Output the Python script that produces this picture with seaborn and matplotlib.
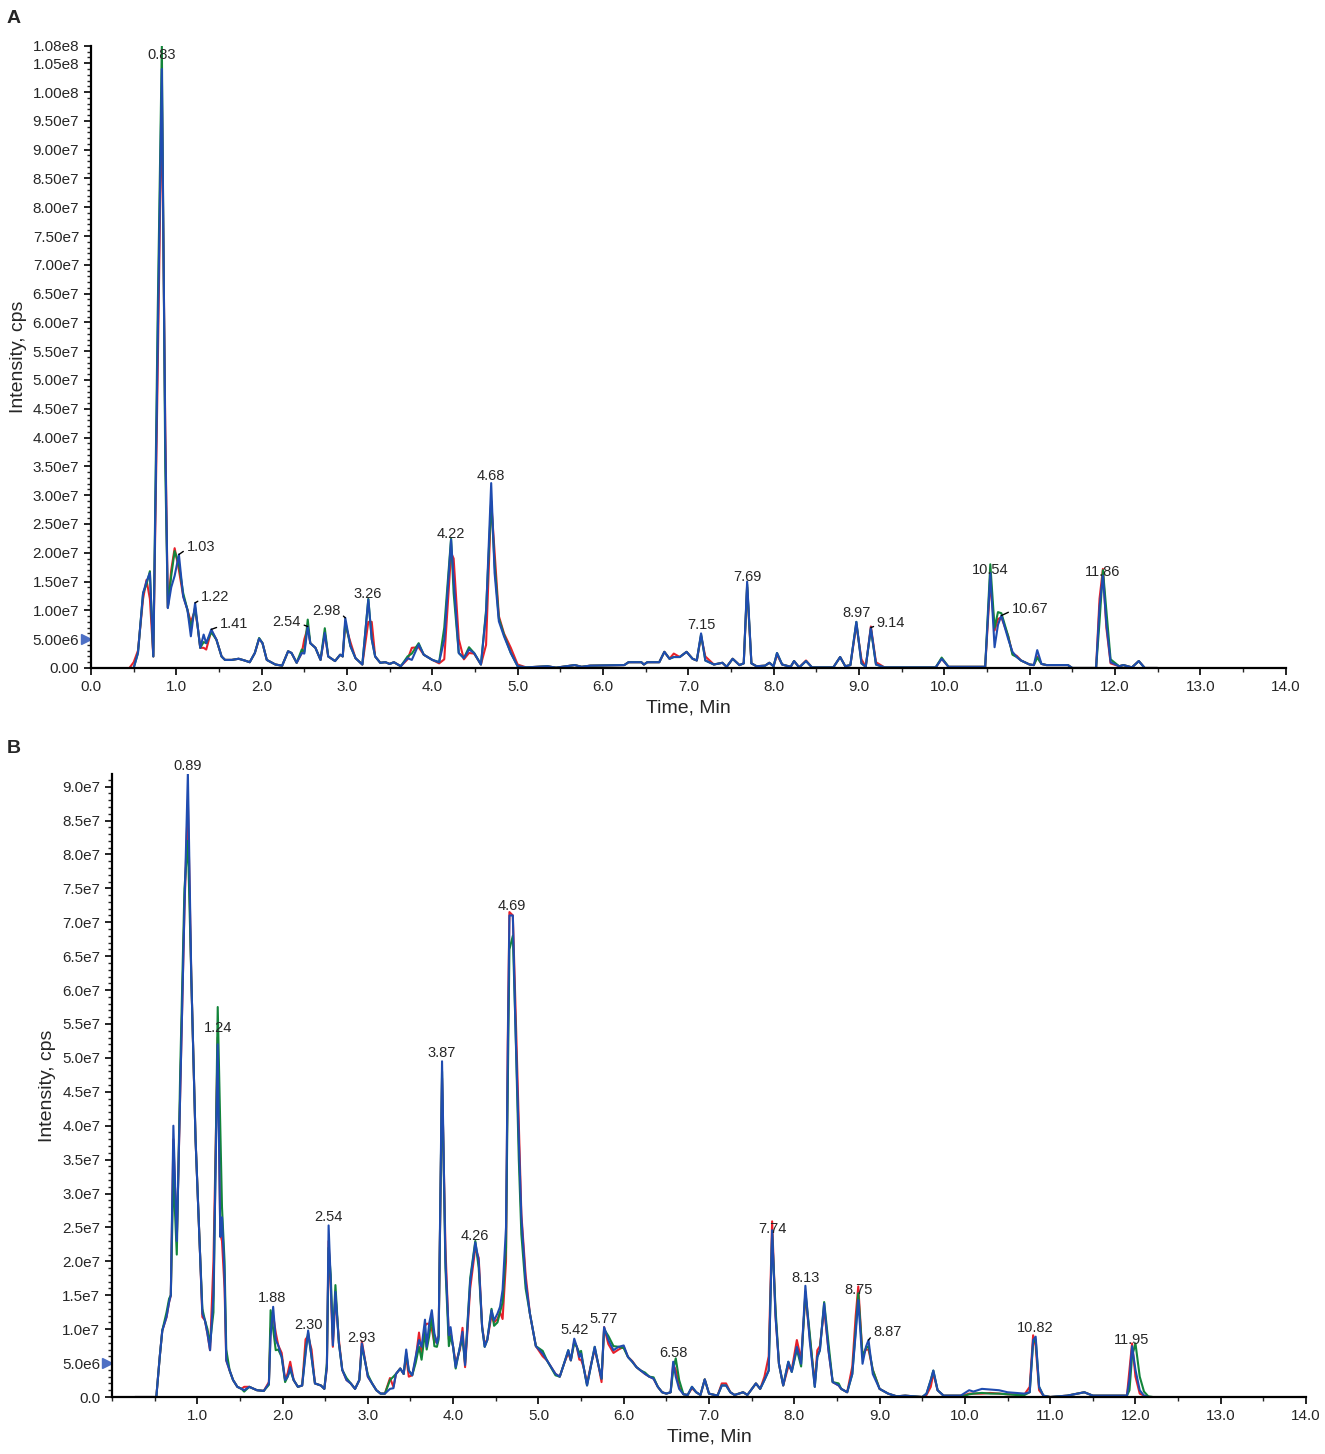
import matplotlib
matplotlib.use("Agg")
import matplotlib.pyplot as plt
from matplotlib.ticker import MultipleLocator, FuncFormatter
import seaborn as sns
import pandas as pd

tA = [0.45, 0.50, 0.55, 0.61, 0.65, 0.69, 0.73, 0.78, 0.83, 0.87, 0.90, 0.94, 0.98, 1.03, 1.08,
      1.13, 1.17, 1.22, 1.25, 1.28, 1.32, 1.35, 1.41, 1.47, 1.53, 1.57, 1.65, 1.73, 1.80, 1.86,
      1.92, 1.97, 2.01, 2.06, 2.16, 2.24, 2.31, 2.35, 2.41, 2.47, 2.50, 2.54, 2.57, 2.63, 2.69,
      2.74, 2.78, 2.86, 2.92, 2.95, 2.98, 3.04, 3.10, 3.18, 3.25, 3.29, 3.33, 3.39, 3.45, 3.50,
      3.55, 3.63, 3.71, 3.76, 3.84, 3.90, 4.00, 4.08, 4.14, 4.22, 4.25, 4.31, 4.37, 4.43, 4.49,
      4.57, 4.63, 4.69, 4.73, 4.78, 4.84, 4.92, 5.00, 5.10, 5.35, 5.45, 5.67, 5.75, 5.85, 6.25,
      6.30, 6.45, 6.48, 6.52, 6.66, 6.72, 6.78, 6.83, 6.90, 6.98, 7.05, 7.10, 7.15, 7.20, 7.30,
      7.40, 7.45, 7.52, 7.60, 7.65, 7.69, 7.74, 7.80, 7.90, 7.95, 8.00, 8.04, 8.10, 8.20, 8.24,
      8.30, 8.38, 8.45, 8.70, 8.78, 8.84, 8.90, 8.97, 9.03, 9.08, 9.14, 9.20, 9.30, 9.90, 9.97,
      10.05, 10.48, 10.54, 10.59, 10.63, 10.67, 10.75, 10.80, 10.85, 10.90, 11.00, 11.05, 11.09, 11.14, 11.20,
      11.45, 11.50, 11.78, 11.82, 11.86, 11.90, 11.95, 12.05, 12.10, 12.20, 12.28, 12.35, 12.50]
blueA = [0, 0, 2.6, 13, 15, 16.5, 2, 55, 104, 40, 10.4, 14, 16, 19.7, 12.4,
         10.1, 5.5, 11.3, 7.2, 3.5, 5.8, 4.3, 6.7, 4.9, 2, 1.4, 1.4, 1.6, 1.3, 1.0,
         2.6, 5.1, 4.3, 1.4, 0.6, 0.4, 2.9, 2.6, 0.9, 2.6, 2.5, 7.2, 4.3, 3.5, 1.4,
         6.1, 2, 1.2, 2.3, 2.0, 8.7, 3.8, 1.7, 0.6, 11.9, 5, 2, 0.9, 1.0, 0.7,
         1.0, 0.3, 1.7, 1.4, 4.1, 2.3, 1.4, 1.0, 4.9, 22.3, 15.3, 2.6, 1.7, 3.2, 2.6,
         0.6, 9.5, 32.1, 16.5, 8.1, 5.5, 2.6, 0.3, 0.1, 0.3, 0.05, 0.5, 0.2, 0.4, 0.5,
         1.0, 1.0, 0.6, 1.0, 1.0, 2.8, 1.6, 1.9, 1.9, 2.8, 1.6, 1.3, 6.0, 1.3, 0.6,
         0.9, 0.2, 1.6, 0.5, 0.8, 15.0, 0.8, 0.3, 0.4, 0.9, 0.3, 2.6, 0.6, 0.2, 1.2,
         0.1, 1.2, 0.1, 0.1, 1.9, 0.3, 0.5, 8.0, 0.8, 0.2, 7.0, 0.6, 0.1, 0.1, 1.6,
         0.2, 0.2, 16.5, 3.6, 7.5, 9.1, 5, 2.8, 1.9, 1.3, 0.6, 0.5, 3.1, 0.7, 0.5,
         0.5, 0.0, 0.0, 10.6, 16.0, 7.7, 1.0, 0.3, 0.5, 0.1, 1.2, 0.0, 0.0]
redA = [0, 1, 3, 12, 15.3, 12, 2, 50, 100, 42, 10.5, 17, 20.8, 17, 12.5,
        10.1, 8, 10, 7.2, 3.5, 3.5, 3.2, 6.5, 4.9, 2, 1.4, 1.4, 1.6, 1.3, 1.0,
        2.6, 5.1, 4.3, 1.4, 0.6, 0.4, 2.9, 2.6, 0.9, 2.6, 5, 7, 4.3, 3.5, 1.4,
        6, 2, 1.2, 2.3, 2.0, 7.5, 4.5, 1.7, 0.6, 8, 8, 2, 0.9, 1.0, 0.7,
        1.0, 0.3, 1.5, 3.5, 3.6, 2.3, 1.4, 0.8, 1.5, 20, 19, 5, 1.5, 2.6, 2.5,
        0.6, 4, 29, 20, 9, 6, 3.5, 0.6, 0.1, 0.3, 0.05, 0.5, 0.2, 0.4, 0.5,
        1.0, 1.0, 0.6, 1.0, 1.0, 2.8, 1.6, 2.5, 1.9, 2.8, 1.6, 1.3, 5.5, 2, 0.6,
        0.9, 0.2, 1.6, 0.5, 0.8, 14, 0.8, 0.3, 0.4, 0.9, 0.3, 2.3, 0.6, 0.2, 1.2,
        0.1, 1.3, 0.1, 0.1, 1.9, 0.3, 0.5, 7.5, 1.5, 0.2, 7.2, 1, 0.1, 0.1, 1.6,
        0.2, 0.2, 15, 6.5, 8.5, 8.8, 5.5, 2.5, 2.1, 1.3, 0.6, 0.5, 2, 0.7, 0.5,
        0.5, 0.0, 0.0, 12, 17.2, 7, 0.8, 0.3, 0.5, 0.1, 1.2, 0.0, 0.0]
greenA = [0, 0, 2.6, 13, 14.5, 16.8, 2, 60, 108, 35, 10.5, 16, 20.3, 18, 13,
          10.1, 7, 10.5, 7.2, 3.5, 4.5, 4.3, 6.2, 4.9, 2, 1.4, 1.4, 1.6, 1.3, 1.0,
          2.6, 5.2, 4.3, 1.4, 0.6, 0.4, 2.9, 2.6, 0.9, 3.2, 2.8, 8.4, 4.3, 3.5, 1.4,
          6.9, 2, 1.2, 2.3, 2.0, 8, 3.8, 1.7, 0.6, 12, 5, 2, 0.9, 1.0, 0.7,
          1.0, 0.3, 2, 2.5, 4.3, 2.3, 1.4, 1.0, 7, 22.5, 13, 2.6, 1.7, 3.6, 2.6,
          0.6, 10, 29, 18, 8.6, 5.8, 2.6, 0.3, 0.1, 0.3, 0.05, 0.5, 0.2, 0.4, 0.5,
          1.0, 1.0, 0.6, 1.0, 1.0, 2.8, 1.6, 1.9, 1.9, 2.8, 1.6, 1.3, 5.8, 1.3, 0.6,
          0.9, 0.2, 1.6, 0.5, 0.8, 14.5, 0.8, 0.3, 0.4, 0.9, 0.3, 2.6, 0.6, 0.2, 1.2,
          0.1, 1.2, 0.1, 0.1, 1.9, 0.3, 0.5, 8, 0.8, 0.2, 6.8, 0.6, 0.1, 0.1, 1.8,
          0.2, 0.2, 18, 7, 9.7, 9.5, 5.5, 2.3, 1.9, 1.3, 0.6, 0.5, 1.8, 0.7, 0.5,
          0.5, 0.0, 0.0, 8, 17, 10, 1.5, 0.3, 0.5, 0.1, 1.2, 0.0, 0.0]

tB = [0.27, 0.45, 0.52, 0.56, 0.59, 0.64, 0.67, 0.69, 0.72, 0.76, 0.80, 0.85, 0.89, 0.93, 0.98,
      1.03, 1.06, 1.09, 1.12, 1.15, 1.19, 1.24, 1.27, 1.29, 1.32, 1.34, 1.38, 1.42, 1.47, 1.52,
      1.55, 1.61, 1.70, 1.78, 1.84, 1.86, 1.89, 1.92, 1.95, 1.99, 2.03, 2.06, 2.09, 2.13, 2.18,
      2.23, 2.27, 2.30, 2.34, 2.38, 2.45, 2.49, 2.52, 2.54, 2.565, 2.59, 2.62, 2.66, 2.70, 2.75,
      2.80, 2.85, 2.90, 2.93, 3.00, 3.05, 3.10, 3.15, 3.20, 3.26, 3.30, 3.33, 3.38, 3.42, 3.45,
      3.48, 3.52, 3.56, 3.60, 3.63, 3.67, 3.69, 3.72, 3.75, 3.78, 3.81, 3.83, 3.87, 3.91, 3.95,
      3.97, 4.00, 4.03, 4.08, 4.11, 4.14, 4.20, 4.26, 4.30, 4.34, 4.37, 4.40, 4.45, 4.48, 4.52,
      4.55, 4.58, 4.62, 4.64, 4.66, 4.70, 4.73, 4.77, 4.80, 4.85, 4.90, 4.97, 5.05, 5.10, 5.20,
      5.25, 5.30, 5.35, 5.38, 5.42, 5.45, 5.48, 5.50, 5.53, 5.57, 5.62, 5.66, 5.70, 5.74, 5.77,
      5.82, 5.88, 5.94, 6.00, 6.05, 6.10, 6.15, 6.20, 6.25, 6.30, 6.35, 6.40, 6.45, 6.50, 6.55,
      6.58, 6.61, 6.65, 6.70, 6.75, 6.80, 6.85, 6.90, 6.95, 7.00, 7.10, 7.15, 7.20, 7.25, 7.30,
      7.40, 7.45, 7.55, 7.60, 7.65, 7.70, 7.74, 7.78, 7.82, 7.87, 7.93, 7.97, 8.03, 8.08, 8.13,
      8.18, 8.24, 8.27, 8.30, 8.35, 8.40, 8.45, 8.52, 8.55, 8.62, 8.68, 8.72, 8.75, 8.80, 8.84,
      8.87, 8.92, 9.00, 9.10, 9.20, 9.30, 9.50, 9.55, 9.60, 9.63, 9.68, 9.75, 9.95, 10.00, 10.05,
      10.10, 10.20, 10.30, 10.40, 10.50, 10.60, 10.70, 10.76, 10.80, 10.83, 10.87, 10.92, 11.00, 11.20, 11.40,
      11.50, 11.90, 11.93, 11.96, 12.00, 12.05, 12.10, 12.15, 12.20]
blueB = [0, 0, 0, 5.9, 9.8, 11.8, 14, 15, 40, 23, 45, 72, 92, 62, 38,
         22, 12.3, 11.3, 9.3, 6.9, 15, 52, 23.6, 26.5, 18, 5.4, 3.9, 2.5, 1.5, 1.2,
         1.0, 1.5, 1.0, 0.9, 2.0, 9, 13.3, 8.4, 7.6, 5.9, 2.5, 3, 4.4, 2.5, 1.5,
         1.7, 6.4, 9.8, 5.9, 2, 1.7, 1.2, 4.4, 25.3, 17, 7.6, 15.5, 8, 4, 2.5,
         2, 1.2, 2.5, 7.9, 3, 2, 1, 0.5, 0.5, 1.2, 1.3, 3.4, 4.2, 3.4, 7,
         3.9, 3.2, 5.9, 8.4, 7.4, 11.4, 7.4, 10.9, 12.8, 9.4, 7.9, 8.9, 49.5, 20, 9.1,
         10.3, 7.4, 4.4, 7.4, 9.6, 4.7, 17, 22.8, 20, 10.3, 7.4, 8.4, 12.8, 11.3, 12.3,
         13.3, 15.8, 25, 50, 71, 71, 55, 38, 26.5, 17, 12.3, 7.5, 6.4, 5.4, 3.4,
         3, 4.9, 6.9, 5.4, 8.6, 7.4, 5.9, 6.4, 4.4, 1.7, 4.9, 7.4, 4.9, 2.7, 10.3,
         8.4, 6.9, 7.4, 7.6, 5.9, 5.2, 4.4, 3.9, 3.4, 3.0, 2.7, 1.5, 0.7, 0.5, 0.7,
         5.2, 3, 1.2, 0.4, 0.3, 1.5, 0.7, 0.3, 2.6, 0.5, 0.2, 1.7, 1.7, 0.7, 0.3,
         0.7, 0.3, 2.0, 1.2, 2.5, 3.9, 24.6, 11.8, 4.9, 1.7, 5.2, 3.7, 7.4, 4.9, 16.4,
         8.4, 1.5, 5.9, 6.9, 13.8, 6.9, 2.2, 1.7, 1.2, 0.7, 3.4, 9.4, 14.3, 4.9, 7.4,
         8.4, 3.4, 1.2, 0.5, 0.1, 0.2, 0.0, 0.5, 2.5, 3.9, 1.0, 0.2, 0.2, 0.6, 1.0,
         0.8, 1.2, 1.1, 1.0, 0.7, 0.6, 0.5, 0.7, 8.4, 8.9, 1.5, 0.2, 0.0, 0.2, 0.7,
         0.2, 0.2, 2.7, 7.5, 4.0, 1.0, 0.2, 0.0, 0.0]
redB = [0, 0, 0, 5.9, 9.8, 11.8, 14, 15, 38, 23, 45, 72, 88, 62, 38,
        22, 11.8, 11.3, 9.3, 6.9, 20, 53, 24, 23, 16, 5.4, 3.9, 2.5, 1.5, 1.2,
        1.5, 1.5, 1.0, 0.9, 2.2, 10, 12, 9.5, 7.6, 6.5, 2.5, 3.5, 5.2, 2.5, 1.5,
        1.7, 8.5, 9, 7, 2, 1.7, 1.2, 4.4, 23, 16, 7.4, 15, 8.5, 4, 2.5,
        2, 1.2, 2.5, 8.2, 3, 2, 1, 0.5, 0.5, 2.8, 1.5, 3.4, 4.2, 3.4, 6,
        3, 3.2, 5.5, 9.5, 6.5, 10.5, 10.8, 10.8, 10, 8, 8.5, 9, 47, 22, 8.5,
        9.5, 7.4, 5, 7, 10.2, 4.4, 16, 22, 20.5, 10.3, 7.9, 8.4, 12, 11, 11.5,
        12.5, 11.5, 20, 52, 71.5, 71, 58, 40, 27, 18, 12.3, 7.5, 6, 5.4, 3.4,
        3, 4.9, 6.5, 5.4, 8.2, 7.4, 5.5, 5.5, 4.4, 2, 5, 7, 4.9, 2.2, 10.3,
        7.8, 6.5, 7, 7.4, 5.9, 5.3, 4.4, 3.9, 3.4, 3.0, 2.7, 1.5, 0.7, 0.5, 0.7,
        4.8, 4, 1.5, 0.4, 0.3, 1.3, 0.7, 0.3, 2.6, 0.5, 0.2, 2, 2, 0.7, 0.3,
        0.7, 0.3, 2.0, 1.2, 3, 6, 25.9, 12, 4.9, 1.7, 4.5, 4, 8.4, 5.5, 15,
        9, 2, 6.9, 7.5, 13, 7, 2.2, 1.7, 1.2, 0.7, 4.5, 12, 16.3, 6, 7,
        7, 4, 1.2, 0.5, 0.1, 0.2, 0.0, 0.3, 1.5, 3.5, 1.0, 0.2, 0.2, 0.3, 0.5,
        0.5, 0.5, 0.6, 0.5, 0.4, 0.4, 0.4, 1.5, 9.1, 7.5, 1, 0.2, 0.0, 0.2, 0.7,
        0.2, 0.2, 4, 7.9, 3, 0.5, 0.2, 0.0, 0.0]
greenB = [0, 0, 0, 5.9, 9.8, 12.5, 14.5, 15, 33, 21, 48, 75, 82, 62, 38,
          22, 13, 11.3, 10, 8, 12.5, 57.5, 40, 28, 20, 7, 3.9, 2.5, 1.5, 1.2,
          0.8, 1.5, 1.0, 0.9, 1.8, 12.8, 10, 6.9, 7, 5.9, 2.2, 3, 4, 2.5, 1.5,
          1.7, 6.8, 9.5, 5.9, 2, 1.7, 1.2, 5, 22, 18, 8.5, 16.5, 8, 4, 2.8,
          2, 1.2, 2.5, 7.5, 3.3, 2, 1, 0.5, 0.5, 2.5, 3.0, 3.4, 4.2, 3.4, 6.5,
          3.9, 3.2, 5, 7.4, 5.5, 9.5, 7, 9, 12, 7.5, 7.4, 8.5, 48, 19, 7.5,
          9, 7.4, 4.2, 7.4, 8.5, 5, 17.5, 23, 19, 10.3, 7.4, 8.4, 13, 10.5, 11,
          12.5, 14, 22, 45, 66, 68, 55, 35, 24, 16, 12.3, 7.5, 6.8, 5.4, 3.2,
          3, 4.9, 6.9, 5.4, 8, 7.4, 6.5, 6.8, 4.4, 1.7, 4.9, 7.4, 4.9, 2.7, 10,
          9, 7.5, 7.4, 7.2, 5.9, 5.2, 4.4, 3.9, 3.6, 3.0, 2.9, 1.5, 0.7, 0.5, 0.7,
          4, 5.7, 2.5, 0.4, 0.3, 1.5, 0.7, 0.3, 2.6, 0.5, 0.2, 1.7, 1.7, 0.7, 0.3,
          0.7, 0.3, 2.0, 1.2, 2.5, 3.9, 24, 13, 4.9, 1.7, 5.2, 3.7, 7, 4.5, 15.5,
          9.5, 1.5, 5.9, 6.9, 14, 8, 2.2, 2, 1.2, 0.7, 3.4, 10, 15.3, 6, 7.2,
          7.5, 4, 1.2, 0.5, 0.1, 0.2, 0.0, 0.5, 2.5, 3.9, 1.0, 0.2, 0.2, 0.2, 0.4,
          0.5, 0.6, 0.5, 0.5, 0.4, 0.3, 0.3, 0.7, 8, 8.5, 1.5, 0.2, 0.0, 0.2, 0.7,
          0.2, 0.2, 1, 6, 7.9, 3, 0.8, 0.1, 0.0]

# rótulos dos picos
labelsA = ['0.83', '1.03', '1.22', '1.41', '2.54', '2.98', '3.26', '4.22', '4.68',
           '7.15', '7.69', '8.97', '9.14', '10.54', '10.67', '11.86']
labelsB = ['0.89', '1.24', '1.88', '2.30', '2.54', '2.93', '3.87', '4.26', '4.69', '5.42',
           '5.77', '6.58', '7.74', '8.13', '8.75', '8.87', '10.82', '11.95']
peak_valA = [104, 19.7, 11.3, 6.7, 7.2, 8.7, 11.9, 22.3, 32.1, 6.0, 15.0, 8.0, 7.0, 16.5, 9.1, 16.0]
peak_valB = [92, 52, 13.3, 9.8, 25.3, 7.9, 49.5, 22.8, 71, 8.6, 10.3, 5.2, 24.6, 16.4, 14.3, 8.4, 8.9, 7.5]

# posição do texto (tempo, 1e6 cps, alinhamento) -- só layout
textA = {'0.83': (0.83, 106.5, 'center'), '1.03': (1.12, 21.0, 'left'), '1.22': (1.29, 12.3, 'left'),
         '1.41': (1.51, 7.6, 'left'), '2.54': (2.46, 8.0, 'right'), '2.98': (2.92, 9.9, 'right'),
         '3.26': (3.24, 12.8, 'center'), '4.22': (4.22, 23.2, 'center'), '4.68': (4.68, 33.4, 'center'),
         '7.15': (7.15, 7.4, 'center'), '7.69': (7.69, 15.8, 'center'), '8.97': (8.97, 9.6, 'center'),
         '9.14': (9.21, 7.8, 'left'), '10.54': (10.54, 17.0, 'center'), '10.67': (10.79, 10.3, 'left'),
         '11.86': (11.86, 16.6, 'center')}
textB = {'0.89': (0.89, 93.0, 'center'), '1.24': (1.24, 54.4, 'center'), '1.88': (1.88, 14.6, 'center'),
         '2.30': (2.30, 10.6, 'center'), '2.54': (2.54, 26.6, 'center'), '2.93': (2.93, 8.7, 'center'),
         '3.87': (3.87, 50.7, 'center'), '4.26': (4.26, 23.8, 'center'), '4.69': (4.69, 72.4, 'center'),
         '5.42': (5.42, 9.9, 'center'), '5.77': (5.77, 11.5, 'center'), '6.58': (6.58, 6.5, 'center'),
         '7.74': (7.74, 24.8, 'center'), '8.13': (8.13, 17.6, 'center'), '8.75': (8.75, 15.8, 'center'),
         '8.87': (8.93, 9.6, 'left'), '10.82': (10.82, 10.2, 'center'), '11.95': (11.95, 8.4, 'center')}
leadersA = ['1.03', '1.22', '1.41', '2.54', '2.98', '9.14', '10.67']
leadersB = ['8.87']

cores = {'r1': '#e8202a', 'r2': '#12853a', 'r3': '#1f4cb0'}

sns.set_style('ticks')
plt.rcParams['font.family'] = ['Liberation Sans', 'DejaVu Sans']


def sci_fmt(dec):
    def f(v, pos):
        if v == 0:
            return '0.' + '0' * dec
        s = f'{v:.{dec}e}'
        mant, exp = s.split('e')
        return f'{mant}e{int(exp)}'
    return FuncFormatter(f)


def painel(ax, t, r, g, b, labels, peak_vals, textpos, leaders, ymax, dec, yticks, xticks):
    df = pd.DataFrame({'Time': t * 3,
                       'Intensity': [v * 1e6 for v in r + g + b],
                       'run': ['r1'] * len(t) + ['r2'] * len(t) + ['r3'] * len(t)})
    sns.lineplot(data=df, x='Time', y='Intensity', hue='run', palette=cores, ax=ax,
                 estimator=None, sort=False, legend=False, linewidth=1.5)
    ax.set_xlim(0, 14)
    ax.set_ylim(0, ymax)
    ax.set_yticks(yticks)
    ax.set_xticks(xticks)
    ax.yaxis.set_major_formatter(sci_fmt(dec))
    ax.yaxis.set_minor_locator(MultipleLocator(1e6))
    ax.xaxis.set_minor_locator(MultipleLocator(0.5))
    ax.xaxis.set_major_formatter(FuncFormatter(lambda v, p: f'{v:.1f}'))
    ax.tick_params(axis='both', which='major', length=5, width=1.2, labelsize=11, color='black')
    ax.tick_params(axis='y', which='minor', length=3, width=1.0)
    ax.tick_params(axis='x', which='minor', length=3, width=1.0)
    for s in ['left', 'bottom']:
        ax.spines[s].set_linewidth(1.6)
        ax.spines[s].set_color('black')
    sns.despine(ax=ax)
    ax.set_xlabel('Time, Min', fontsize=14)
    ax.set_ylabel('Intensity, cps', fontsize=14)
    # marcador azul no eixo y
    ax.plot([-0.004], [5e6], marker='>', color='#4d6fc4', markersize=7,
            transform=ax.get_yaxis_transform(), clip_on=False)
    for lab, pv in zip(labels, peak_vals):
        tx, ty, ha = textpos[lab]
        if lab in leaders:
            rel = (0, 0.35) if ha == 'left' else (1, 0.35)
            ax.annotate(lab, xy=(float(lab), pv * 1e6), xytext=(tx, ty * 1e6), ha=ha, va='center',
                        fontsize=10.5,
                        arrowprops=dict(arrowstyle='-', color='black', lw=1.0,
                                        shrinkA=0, shrinkB=0, relpos=rel))
        else:
            ax.text(tx, ty * 1e6, lab, ha=ha, va='center', fontsize=10.5)


fig = plt.figure(figsize=(13.25, 14.54), dpi=100)
axA = fig.add_axes([0.0687, 0.5406, 0.9015, 0.4278])
axB = fig.add_axes([0.0845, 0.0392, 0.9012, 0.4282])

yA = [i * 5e6 for i in range(22)] + [1.08e8]
painel(axA, tA, redA, greenA, blueA, labelsA, peak_valA, textA, leadersA, 1.08e8, 2, yA,
       [float(i) for i in range(15)])
yB = [i * 5e6 for i in range(19)]
painel(axB, tB, redB, greenB, blueB, labelsB, peak_valB, textB, leadersB, 9.18e7, 1, yB,
       [float(i) for i in range(1, 15)])

fig.text(0.005, 0.987, 'A', fontsize=14, fontweight='bold', va='center')
fig.text(0.005, 0.485, 'B', fontsize=14, fontweight='bold', va='center')

fig.savefig('out.png', dpi=100)
